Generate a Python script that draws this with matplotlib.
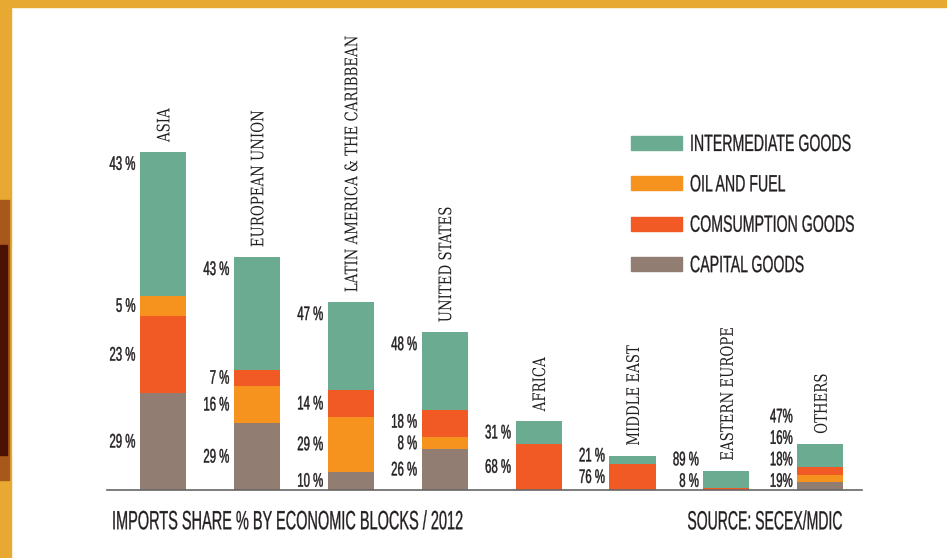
import matplotlib
matplotlib.use("Agg")
import matplotlib.pyplot as plt
from matplotlib.patches import Rectangle, Patch
from matplotlib.patheffects import AbstractPathEffect
from matplotlib.transforms import Affine2D

# imports share by block (bar heights, % of total imports) split by category
regions = ["ASIA", "EUROPEAN UNION", "LATIN AMERICA & THE CARIBBEAN", "UNITED STATES",
           "AFRICA", "MIDDLE EAST", "EASTERN EUROPE", "OTHERS"]
capital = [9.0, 6.2, 1.7, 3.8, 0, 0, 0, 0.75]
oil = [1.9, 3.5, 5.1, 1.1, 0, 0, 0, 0.65]
consumption = [7.2, 1.5, 2.5, 2.6, 4.3, 2.4, 0.2, 0.75]
intermediate = [13.4, 10.5, 8.2, 7.2, 2.1, 0.8, 1.6, 2.15]

# printed percentages next to each segment
capital_pct = [29, 29, 10, 26, None, None, None, 19]
oil_pct = [5, 16, 29, 8, None, None, None, 18]
consumption_pct = [23, 7, 14, 18, 68, 76, 8, 16]
intermediate_pct = [43, 43, 47, 48, 31, 21, 89, 47]

series = {
    "capital": (capital, capital_pct, "#927d73", "CAPITAL GOODS"),
    "oil": (oil, oil_pct, "#f6931f", "OIL AND FUEL"),
    "consumption": (consumption, consumption_pct, "#f15a24", "COMSUMPTION GOODS"),
    "intermediate": (intermediate, intermediate_pct, "#6aab92", "INTERMEDIATE GOODS"),
}
default_order = ["capital", "oil", "consumption", "intermediate"]
stack_order = {"ASIA": ["capital", "consumption", "oil", "intermediate"]}


class Tall(AbstractPathEffect):
    """stretch glyphs across the text direction -> condensed poster look"""
    def __init__(self, sy, stroke=0.0):
        super().__init__()
        self.sy = sy
        self.stroke = stroke

    def draw_path(self, renderer, gc, tpath, affine, rgbFace=None):
        ext = tpath.get_extents()
        yc = (ext.y0 + ext.y1) / 2
        aff = Affine2D().translate(0, -yc).scale(1, self.sy).translate(0, yc) + affine
        gc0 = renderer.new_gc()
        gc0.copy_properties(gc)
        if self.stroke:
            gc0.set_linewidth(self.stroke)
            gc0.set_foreground(rgbFace)
        renderer.draw_path(gc0, tpath, aff, rgbFace)
        gc0.restore()


SANS = ["Liberation Sans", "DejaVu Sans"]
SERIF = ["DejaVu Serif"]
INK = "#231f20"
W, H = 947, 558
PX = 460 / 42.87  # pixels per data unit

fig = plt.figure(figsize=(W / 100, H / 100), dpi=100, facecolor="white")

# golden frame
gold = "#e7a932"
fig.patches.append(Rectangle((0, 1 - 7 / H), 1, 7 / H, transform=fig.transFigure, color=gold, zorder=0))
fig.patches.append(Rectangle((0, 0), 11 / W, 1, transform=fig.transFigure, color=gold, zorder=0))
fig.patches.append(Rectangle((0, 1 - 480 / H), 9 / W, 280 / H, transform=fig.transFigure,
                             color="#a8581a", zorder=0))
fig.patches.append(Rectangle((0, 1 - 455 / H), 7 / W, 210 / H, transform=fig.transFigure,
                             color="#4a1204", zorder=0))

ax = fig.add_axes([107 / W, (H - 490) / H, (862 - 107) / W, 460 / H])
ax.set_xlim(-0.596, 7.444)
ax.set_ylim(0, 42.87)
for s in ["top", "right", "left"]:
    ax.spines[s].set_visible(False)
ax.spines["bottom"].set_color("#666666")
ax.spines["bottom"].set_linewidth(1.2)
ax.set_xticks([])
ax.set_yticks([])
ax.patch.set_alpha(0)

bw = 0.49
for i, reg in enumerate(regions):
    order = stack_order.get(reg, default_order)
    bottom = 0
    segs = []
    for key in order:
        vals, pcts, col, _ = series[key]
        v = vals[i]
        if v <= 0:
            continue
        ax.bar(i, v, bw, bottom=bottom, color=col, linewidth=0)
        segs.append([bottom, v, pcts[i]])
        bottom += v
    # label positions: segment centres, top one near the top, pushed apart
    ys = [b + h / 2 for b, h, _ in segs]
    if segs[-1][1] > 30 / PX:
        ys[-1] = bottom - 12 / PX
    ys[0] = max(ys[0], 9 / PX)
    for k in range(1, len(ys)):
        ys[k] = max(ys[k], ys[k - 1] + 21.5 / PX)
    sep = "%" if reg == "OTHERS" else " %"
    for (b, h, p), y in zip(segs, ys):
        ax.text(i - bw / 2 - 4.5 / 93.9, y, f"{p}{sep}", ha="right", va="center",
                fontsize=8.2, family=SANS, color=INK, path_effects=[Tall(1.72, 0.3)])
    ax.text(i + 1.5 / 93.9, bottom + 10 / PX, reg, rotation=90, ha="center", va="bottom",
            fontsize=9.6, family=SERIF, color=INK, path_effects=[Tall(1.3)])

handles = [Patch(color=series[k][2], label=series[k][3])
           for k in ["intermediate", "oil", "consumption", "capital"]]
fs = 10.2 * 100 / 72
leg = fig.legend(handles=handles, loc="upper left", bbox_to_anchor=(631 / W, 1 - 136 / H),
                 frameon=False, borderaxespad=0, borderpad=0, handlelength=51 / fs,
                 handleheight=16 / fs, handletextpad=8 / fs, labelspacing=1.81,
                 prop={"family": SANS, "size": 10.2}, labelcolor=INK)
for t in leg.get_texts():
    t.set_path_effects([Tall(1.667, 0.2)])

fig.text(112 / W, 1 - 521 / H, "IMPORTS SHARE % BY ECONOMIC BLOCKS / 2012", ha="left",
         va="center", fontsize=10.45, family=SANS, color=INK,
         path_effects=[Tall(1.82, 0.2)])
fig.text(842 / W, 1 - 521 / H, "SOURCE: SECEX/MDIC", ha="right", va="center",
         fontsize=10.1, family=SANS, color=INK, path_effects=[Tall(1.88, 0.2)])

fig.savefig("out.png", dpi=100, facecolor="white")
